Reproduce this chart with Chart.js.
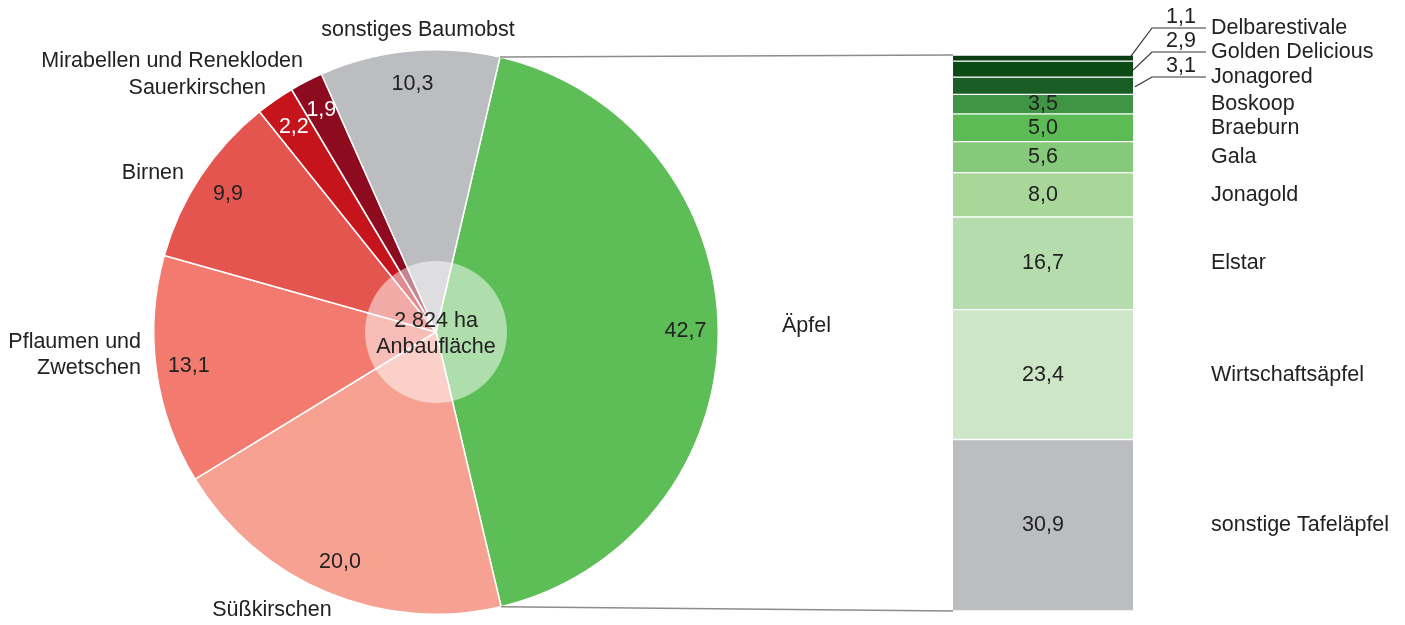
<!DOCTYPE html>
<html>
<head>
<meta charset="utf-8">
<script src="https://cdn.jsdelivr.net/npm/chart.js@4"></script>
<style>
  body { margin: 0; background: #fff; }
  #wrap { position: relative; width: 1405px; height: 625px; }
  canvas { position: absolute; left: 0; top: 0; }
</style>
</head>
<body>
<div id="wrap">
  <canvas id="pieChart" width="1405" height="625"></canvas>
  <canvas id="barChart" width="1405" height="625"></canvas>
</div>
<script>
// Obstarten (Anteil an 2 824 ha Anbaufläche, %)
const fruitLabels = ["Äpfel", "Süßkirschen", "Pflaumen und Zwetschen", "Birnen", "Mirabellen und Renekloden", "Sauerkirschen", "sonstiges Baumobst"];
const fruitValues = [42.7, 20.0, 13.1, 9.9, 2.2, 1.9, 10.3];

// Apfelsorten (% der Apfelfläche)
const appleLabels = ["Delbarestivale", "Golden Delicious", "Jonagored", "Boskoop", "Braeburn", "Gala", "Jonagold", "Elstar", "Wirtschaftsäpfel", "sonstige Tafeläpfel"];
const appleValues = [1.1, 2.9, 3.1, 3.5, 5.0, 5.6, 8.0, 16.7, 23.4, 30.9];

const centerText = ["2 824 ha", "Anbaufläche"];

const fruitColors = ["#5dbd56", "#f6a192", "#f27a6e", "#e4554f", "#c5141c", "#8e0a1e", "#bcbdc1"];
const appleColors = ["#0b3d12", "#0b4a14", "#1a5e26", "#3f9543", "#5cbb55", "#86c97a", "#a9d699", "#b4dcad", "#cde6c5", "#bcbdc1"];

const FONT = "21.5px 'Liberation Sans', Arial, sans-serif";
const TEXT = "#222";

function fmt(v) { return v.toFixed(1).replace(".", ","); }

// where the outer names of the pie sit, relative to the pie centre
const fruitNamePos = [
  { dx: 346, dy: -6, align: "left" },
  { dx: -164, dy: 278, align: "center" },
  { dx: -295, dy: 10, align: "right", lines: ["Pflaumen und", "Zwetschen"] },
  { dx: -252, dy: -159, align: "right" },
  { dx: -133, dy: -271, align: "right" },
  { dx: -170, dy: -244, align: "right" },
  { dx: -18, dy: -302, align: "center" }
];

const pieLabels = {
  id: "pieLabels",
  afterDatasetsDraw(chart) {
    const ctx = chart.ctx;
    const arcs = chart.getDatasetMeta(0).data;
    const cx = arcs[0].x, cy = arcs[0].y;
    ctx.save();
    ctx.font = FONT;
    ctx.textBaseline = "middle";

    // value labels inside slices
    arcs.forEach((a, i) => {
      const mid = (a.startAngle + a.endAngle) / 2;
      const r = a.outerRadius * 0.884;
      ctx.fillStyle = (i === 4 || i === 5) ? "#fff" : TEXT;
      ctx.textAlign = "center";
      ctx.fillText(fmt(fruitValues[i]), cx + Math.cos(mid) * r, cy + Math.sin(mid) * r);
    });

    // light centre disc
    ctx.fillStyle = "rgba(255,255,255,0.5)";
    ctx.beginPath();
    ctx.arc(cx, cy, 71, 0, Math.PI * 2);
    ctx.fill();
    ctx.fillStyle = TEXT;
    ctx.textAlign = "center";
    ctx.fillText(centerText[0], cx, cy - 11);
    ctx.fillText(centerText[1], cx, cy + 15);

    // names
    fruitNamePos.forEach((p, i) => {
      const lines = p.lines || [fruitLabels[i]];
      ctx.textAlign = p.align;
      lines.forEach((t, k) => ctx.fillText(t, cx + p.dx, cy + p.dy + k * 26));
    });
    ctx.restore();
  }
};

const pieChart = new Chart(document.getElementById("pieChart"), {
  type: "pie",
  data: {
    labels: fruitLabels,
    datasets: [{
      data: fruitValues,
      backgroundColor: fruitColors,
      borderColor: "#fff",
      borderWidth: 1.5
    }]
  },
  options: {
    responsive: false,
    animation: false,
    rotation: 13.1,
    layout: { padding: { left: 153, right: 686, top: 49, bottom: 10 } },
    plugins: { legend: { display: false }, tooltip: { enabled: false } }
  },
  plugins: [pieLabels]
});

// the three thin segments get leader lines, their names sit at these y's
const leaderY = [28, 52, 77];

const barLabels = {
  id: "barLabels",
  afterDraw(chart) {
    const ctx = chart.ctx;
    ctx.save();
    ctx.font = FONT;
    ctx.textBaseline = "middle";

    let right = 0, left = 0, top = 0, bottom = 0;
    appleValues.forEach((v, i) => {
      const el = chart.getDatasetMeta(i).data[0];
      const yMid = (el.y + el.base) / 2;
      right = el.x + el.width / 2;
      left = el.x - el.width / 2;
      if (i === 0) top = Math.min(el.y, el.base);
      if (i === appleValues.length - 1) bottom = Math.max(el.y, el.base);
      if (i < leaderY.length) {
        const ly = leaderY[i];
        ctx.strokeStyle = "#333";
        ctx.lineWidth = 1.2;
        ctx.beginPath();
        ctx.moveTo(right - 2 + i * 2, i === 0 ? yMid - 2 : yMid + 1);
        ctx.lineTo(right + 19, ly);
        ctx.lineTo(right + 73, ly);
        ctx.stroke();
        ctx.fillStyle = TEXT;
        ctx.textAlign = "right";
        ctx.fillText(fmt(v), right + 63, ly - 11);
        ctx.textAlign = "left";
        ctx.fillText(appleLabels[i], right + 78, ly);
      } else {
        ctx.fillStyle = TEXT;
        ctx.textAlign = "center";
        ctx.fillText(fmt(v), el.x, yMid);
        ctx.textAlign = "left";
        ctx.fillText(appleLabels[i], right + 78, yMid);
      }
    });

    // connectors from the apple slice to the bar
    const apple = pieChart.getDatasetMeta(0).data[0];
    const r = apple.outerRadius;
    ctx.strokeStyle = "#8c8c8c";
    ctx.lineWidth = 1.5;
    ctx.beginPath();
    ctx.moveTo(apple.x + Math.cos(apple.startAngle) * r, apple.y + Math.sin(apple.startAngle) * r);
    ctx.lineTo(left, top);
    ctx.moveTo(apple.x + Math.cos(apple.endAngle) * r, apple.y + Math.sin(apple.endAngle) * r);
    ctx.lineTo(left, bottom);
    ctx.stroke();
    ctx.restore();
  }
};

const appleTotal = appleValues.reduce((a, b) => a + b, 0);

new Chart(document.getElementById("barChart"), {
  type: "bar",
  data: {
    labels: ["Äpfel"],
    datasets: appleValues.map((v, i) => ({
      label: appleLabels[i],
      data: [v],
      backgroundColor: appleColors[i],
      borderColor: "#fff",
      borderWidth: { top: 1, bottom: 1, left: 0, right: 0 },
      borderSkipped: false,
      barPercentage: 1,
      categoryPercentage: 1
    }))
  },
  options: {
    responsive: false,
    animation: false,
    layout: { padding: { left: 953, right: 272, top: 55, bottom: 14 } },
    scales: {
      x: { display: false, stacked: true },
      y: { display: false, stacked: true, reverse: true, min: 0, max: appleTotal }
    },
    plugins: { legend: { display: false }, tooltip: { enabled: false } }
  },
  plugins: [barLabels]
});
</script>
</body>
</html>
